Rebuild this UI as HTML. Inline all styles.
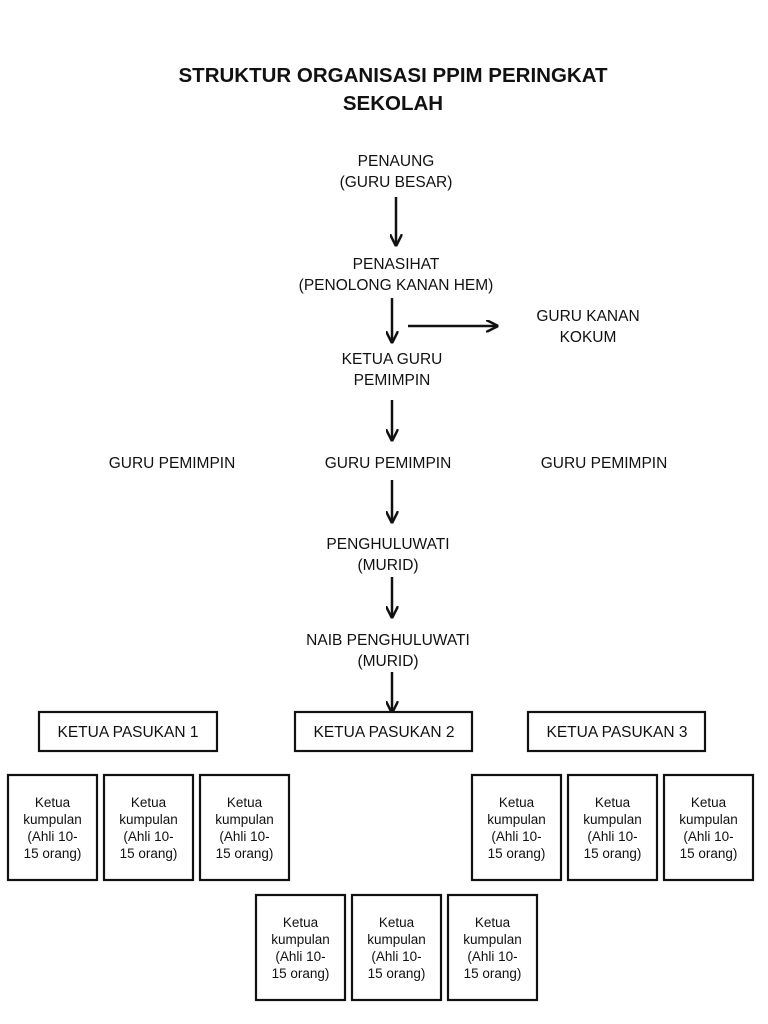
<!DOCTYPE html>
<html><head><meta charset="utf-8"><style>
html,body{margin:0;padding:0;background:#fff;}
svg{display:block;}
text{font-family:"Liberation Sans",Arial,sans-serif;fill:#111;}
.t{font-size:20.5px;font-weight:bold;}
.l{font-size:15.5px;}
.s{font-size:13.5px;}
rect{fill:#fff;stroke:#111;stroke-width:2.2;}
line{stroke:#111;stroke-width:2.5;}
</style></head><body>
<svg width="768" height="1024" viewBox="0 0 768 1024" xmlns="http://www.w3.org/2000/svg">
<defs><marker id="a" viewBox="0 0 10 10" refX="9" refY="5" markerWidth="5" markerHeight="5" orient="auto" markerUnits="strokeWidth"><path d="M0,0 L10,5 L0,10" fill="none" stroke="#111" stroke-width="2"/></marker></defs>
<text class="t" x="393" y="82" text-anchor="middle">STRUKTUR ORGANISASI PPIM PERINGKAT</text>
<text class="t" x="393" y="110" text-anchor="middle">SEKOLAH</text>

<text class="l" x="396" y="166" text-anchor="middle">PENAUNG</text>
<text class="l" x="396" y="187" text-anchor="middle">(GURU BESAR)</text>
<line x1="396" y1="197" x2="396" y2="245" marker-end="url(#a)"/>
<text class="l" x="396" y="269" text-anchor="middle">PENASIHAT</text>
<text class="l" x="396" y="290" text-anchor="middle">(PENOLONG KANAN HEM)</text>
<line x1="392" y1="298" x2="392" y2="342" marker-end="url(#a)"/>
<line x1="408" y1="326" x2="497" y2="326" marker-end="url(#a)"/>
<text class="l" x="588" y="321" text-anchor="middle">GURU KANAN</text>
<text class="l" x="588" y="342" text-anchor="middle">KOKUM</text>
<text class="l" x="392" y="364" text-anchor="middle">KETUA GURU</text>
<text class="l" x="392" y="385" text-anchor="middle">PEMIMPIN</text>
<line x1="392" y1="400" x2="392" y2="440" marker-end="url(#a)"/>
<text class="l" x="172" y="468" text-anchor="middle">GURU PEMIMPIN</text>
<text class="l" x="388" y="468" text-anchor="middle">GURU PEMIMPIN</text>
<text class="l" x="604" y="468" text-anchor="middle">GURU PEMIMPIN</text>
<line x1="392" y1="480" x2="392" y2="522" marker-end="url(#a)"/>
<text class="l" x="388" y="549" text-anchor="middle">PENGHULUWATI</text>
<text class="l" x="388" y="570" text-anchor="middle">(MURID)</text>
<line x1="392" y1="577" x2="392" y2="617" marker-end="url(#a)"/>
<text class="l" x="388" y="645" text-anchor="middle">NAIB PENGHULUWATI</text>
<text class="l" x="388" y="666" text-anchor="middle">(MURID)</text>
<line x1="392" y1="672" x2="392" y2="712" marker-end="url(#a)"/>

<rect x="39" y="712" width="178" height="39"/>
<text class="l" x="128" y="737" text-anchor="middle">KETUA PASUKAN 1</text>
<rect x="295" y="712" width="177" height="39"/>
<text class="l" x="384" y="737" text-anchor="middle">KETUA PASUKAN 2</text>
<rect x="528" y="712" width="177" height="39"/>
<text class="l" x="617" y="737" text-anchor="middle">KETUA PASUKAN 3</text>

<g id="b">
<rect x="8" y="775" width="89" height="105"/>
<text class="s" x="52.5" y="807" text-anchor="middle">Ketua</text>
<text class="s" x="52.5" y="824" text-anchor="middle">kumpulan</text>
<text class="s" x="52.5" y="841" text-anchor="middle">(Ahli 10-</text>
<text class="s" x="52.5" y="858" text-anchor="middle">15 orang)</text>
</g>
<use href="#b" x="96"/>
<use href="#b" x="192"/>
<use href="#b" x="464"/>
<use href="#b" x="560"/>
<use href="#b" x="656"/>
<use href="#b" x="248" y="120"/>
<use href="#b" x="344" y="120"/>
<use href="#b" x="440" y="120"/>
</svg>
</body></html>
